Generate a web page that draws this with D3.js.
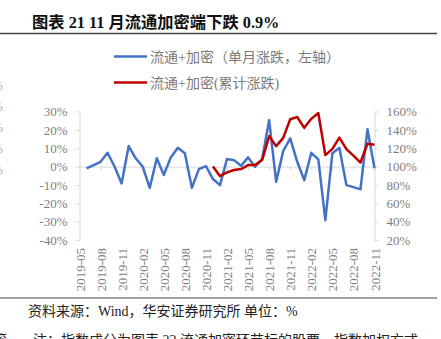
<!DOCTYPE html>
<html><head><meta charset="utf-8">
<script src="https://cdn.jsdelivr.net/npm/d3@7/dist/d3.min.js"></script>
<style>
body{margin:0;background:#fff;}
svg{display:block;}
</style></head>
<body>
<svg id="c" width="441" height="339"></svg>
<script>
// ---- data ----
const months = ["2019-05","2019-06","2019-07","2019-08","2019-09","2019-10","2019-11","2019-12",
"2020-01","2020-02","2020-03","2020-04","2020-05","2020-06","2020-07","2020-08","2020-09","2020-10","2020-11","2020-12",
"2021-01","2021-02","2021-03","2021-04","2021-05","2021-06","2021-07","2021-08","2021-09","2021-10","2021-11","2021-12",
"2022-01","2022-02","2022-03","2022-04","2022-05","2022-06","2022-07","2022-08","2022-09","2022-10","2022-11"];
// monthly change (%), left axis, 2019-06 .. 2022-11
const monthlyStart = "2019-06";
const monthly = [-1.0, 0.8, 2.6, 7.5, -0.1, -9.2, 11.2, 4.5, -0.1, -11.6, 4.5, -4.6, 5.0, 10.2, 7.2,
  -11.6, -1.4, 0.3, -6.8, -10.1, 4.1, 3.5, 0.4, 5.0, -0.1, 4.1, 25.3, -8.3, 8.4, 15.4, 2.6, -7.4,
  7.5, 3.9, -29.2, 7.2, 10.2, -10.1, -11.2, -12.4, 20.3, -0.9];
// cumulative (%), right axis, 2020-12 .. 2022-11
const cumStart = "2020-12";
const cumulative = [100, 89.6, 93.7, 96.2, 97.3, 101.6, 101.6, 107.1, 133.2, 122.3, 131.3, 151.6,
  154.0, 142.2, 152.0, 158.3, 112.5, 119.3, 131.6, 119.0, 112.0, 104.4, 124.8, 123.7];
const leftTicks = [-40, -30, -20, -10, 0, 10, 20, 30];
const rightTicks = [20, 40, 60, 80, 100, 120, 140, 160];
const xLabels = months.filter((m, i) => i % 3 === 0);
const seriesNames = ["流通+加密（单月涨跌，左轴）", "流通+加密(累计涨跌)"];
const titleText = "图表 21 11 月流通加密端下跌 0.9%";
const sourceText = "资料来源：Wind，华安证券研究所 单位：%";
const noteText = "注：指数成分为图表 22 流通加密环节标的股票，指数加权方式";

// ---- drawing ----
const svg = d3.select("#c");
const serif = "'Liberation Serif','Noto Sans CJK SC',serif";
const cjk = "'Liberation Serif','Noto Sans CJK SC',sans-serif";
const axisGrey = "#d9d9d9", labelGrey = "#808080";

const x = d3.scalePoint().domain(months).range([79.5, 374.5]);
const yL = d3.scaleLinear().domain([-40, 30]).range([240, 111.5]);
const yR = d3.scaleLinear().domain([20, 160]).range([240, 111.5]);

// clipped fragments at the left edge (from a neighbouring chart)
[90, 111, 132, 153, 174].forEach(y => svg.append("text").attr("x", -8).attr("y", y)
  .attr("font-family", serif).attr("font-size", 13).attr("fill", "#aaa").text("%"));

// title
svg.append("text").attr("x", 32).attr("y", 28).attr("font-family", cjk)
  .attr("font-weight", "bold").attr("font-size", 16.3).attr("fill", "#111").text(titleText);
svg.append("line").attr("x1", 0).attr("x2", 437).attr("y1", 33.5).attr("y2", 33.5)
  .attr("stroke", "#444").attr("stroke-width", 1.5);

// legend
const colors = ["#4472C4", "#C00000"];
[56.5, 82.5].forEach((ly, i) => {
  svg.append("line").attr("x1", 114).attr("x2", 147).attr("y1", ly).attr("y2", ly)
    .attr("stroke", colors[i]).attr("stroke-width", 2.5);
  svg.append("text").attr("x", 150).attr("y", ly + 5).attr("font-family", cjk)
    .attr("font-size", 14).attr("fill", "#7a7a7a").text(seriesNames[i]);
});

function styleAxis(g) {
  g.select(".domain").attr("stroke", axisGrey);
  g.selectAll(".tick line").attr("stroke", axisGrey);
  g.selectAll(".tick text").attr("fill", labelGrey).attr("font-family", serif).attr("font-size", 13);
}

// left axis
svg.append("g").attr("transform", "translate(79.5,0)")
  .call(d3.axisLeft(yL).tickValues(leftTicks).tickSize(4).tickPadding(8).tickSizeOuter(0)
    .tickFormat(d => (d < 0 ? "-" + (-d) : d) + "%"))
  .call(styleAxis);

// right axis
svg.append("g").attr("transform", "translate(374.5,0)")
  .call(d3.axisRight(yR).tickValues(rightTicks).tickSize(4).tickPadding(8).tickSizeOuter(0)
    .tickFormat(d => d + "%"))
  .call(styleAxis);

// category axis at 0%
svg.append("g").attr("transform", `translate(0,${yL(0)})`)
  .call(d3.axisBottom(x).tickValues(xLabels).tickSize(4).tickSizeOuter(0).tickFormat(""))
  .call(styleAxis);

// x labels at bottom, rotated
const xl = svg.append("g").attr("transform", "translate(0,244)")
  .call(d3.axisBottom(x).tickValues(xLabels).tickSize(0).tickSizeOuter(0));
xl.select(".domain").remove();
xl.selectAll(".tick text").attr("fill", labelGrey).attr("font-family", serif).attr("font-size", 13)
  .attr("text-anchor", "end").attr("transform", "rotate(-90)")
  .attr("x", -4).attr("y", 0).attr("dy", "0.35em");

// lines
const i0 = months.indexOf(monthlyStart), i1 = months.indexOf(cumStart);
const blue = monthly.map((v, i) => [months[i0 + i], v]);
const red = cumulative.map((v, i) => [months[i1 + i], v]);
svg.append("path").datum(blue).attr("fill", "none").attr("stroke", colors[0])
  .attr("stroke-width", 2.5).attr("stroke-linejoin", "round")
  .attr("d", d3.line().x(d => x(d[0])).y(d => yL(d[1])));
svg.append("path").datum(red).attr("fill", "none").attr("stroke", colors[1])
  .attr("stroke-width", 2.5).attr("stroke-linejoin", "round")
  .attr("d", d3.line().x(d => x(d[0])).y(d => yR(d[1])));

// footer
svg.append("line").attr("x1", 0).attr("x2", 437).attr("y1", 298).attr("y2", 298)
  .attr("stroke", "#444").attr("stroke-width", 1.2);
svg.append("text").attr("x", 28).attr("y", 316).attr("font-family", cjk)
  .attr("font-size", 14).attr("fill", "#222").text(sourceText);
svg.append("text").attr("x", 33).attr("y", 345).attr("font-family", cjk)
  .attr("font-size", 14).attr("fill", "#222").text(noteText);
svg.append("text").attr("x", -7).attr("y", 345).attr("font-family", cjk)
  .attr("font-size", 14).attr("fill", "#222").text("滚");
</script>
</body></html>
